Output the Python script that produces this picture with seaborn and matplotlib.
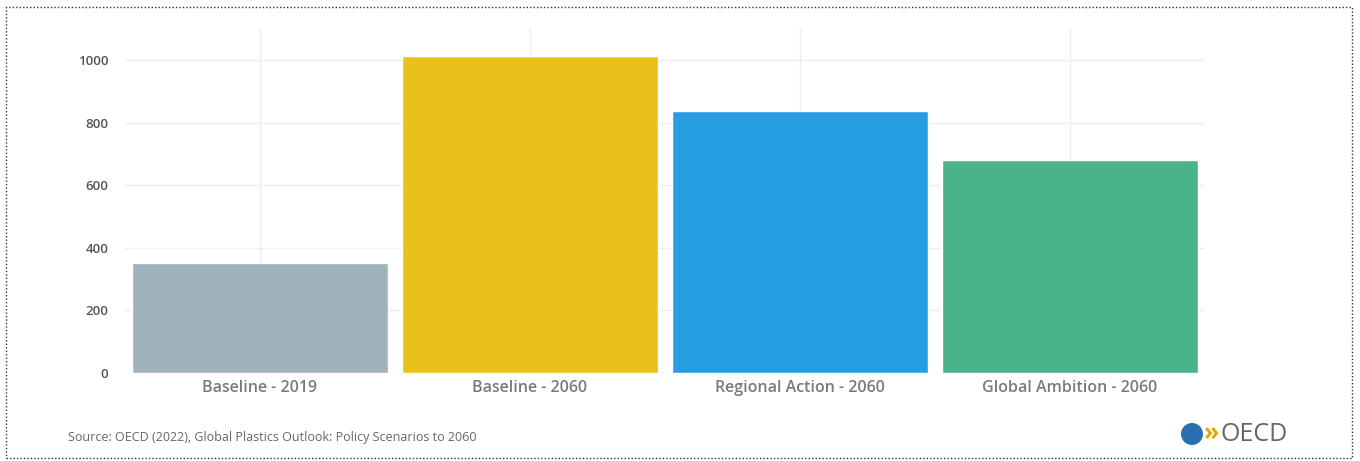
import matplotlib
matplotlib.use("Agg")
import matplotlib.pyplot as plt
import seaborn as sns
import pandas as pd
from matplotlib.patches import Rectangle, Ellipse

categories = ["Baseline - 2019", "Baseline - 2060", "Regional Action - 2060", "Global Ambition - 2060"]
values = [352, 1014, 837, 680]
colors = ["#a0b2bc", "#e8c21a", "#289ee2", "#4bb38a"]
yticks = [0, 200, 400, 600, 800, 1000]

sns.set_theme(style="white")
plt.rcParams['font.family'] = ['Open Sans', 'DejaVu Sans']

df = pd.DataFrame({"category": categories, "value": values})

fig = plt.figure(figsize=(13.6, 4.61), dpi=100)
fig.patch.set_facecolor("white")
ax = fig.add_axes([125/1360, 1-373/461, 1080/1360, 345/461])

sns.barplot(data=df, x="category", y="value", hue="category", palette=colors,
            legend=False, width=0.95, saturation=1, ax=ax, zorder=3)

ax.set_xlim(-0.5, 3.5)
ax.set_ylim(0, 1102)
ax.set_yticks(yticks)
ax.set_yticklabels([str(v) for v in yticks])
ax.set_xlabel("")
ax.set_ylabel("")
ax.grid(True, color="#efefef", linewidth=1, zorder=0)
ax.set_axisbelow(True)
for s in ax.spines.values():
    s.set_visible(False)
ax.tick_params(axis="y", length=0, pad=12, labelsize=9.5, labelcolor="#555555")
ax.tick_params(axis="x", length=0, pad=5, labelsize=11.5, labelcolor="#7a7a7a")
for t in ax.get_xticklabels():
    t.set_fontweight("semibold")
for t in ax.get_yticklabels():
    t.set_fontweight("semibold")
ax.set_facecolor("white")

# dotted border
fig.patches.append(Rectangle((6/1360, 3/461), 1346/1360, 451/461, transform=fig.transFigure,
                             fill=False, edgecolor="#333333", linestyle=(0, (1, 1.5)), linewidth=1))

fig.text(68/1360, 1-437/461, "Source: OECD (2022), Global Plastics Outlook: Policy Scenarios to 2060",
         fontsize=9, color="#666666", va="center", ha="left")

# OECD logo
fig.patches.append(Ellipse((1192/1360, 1-434/461), 22/1360, 22/461, transform=fig.transFigure,
                           facecolor="#2a6fb0", edgecolor="none"))
fig.text(1204/1360, 1-434/461, "»", fontsize=18, color="#e0a800", va="center", ha="left", fontweight="bold")
fig.text(1221/1360, 1-434/461, "OECD", fontsize=18, color="#666666", va="center", ha="left")

fig.savefig("out.png", dpi=100, facecolor="white")
